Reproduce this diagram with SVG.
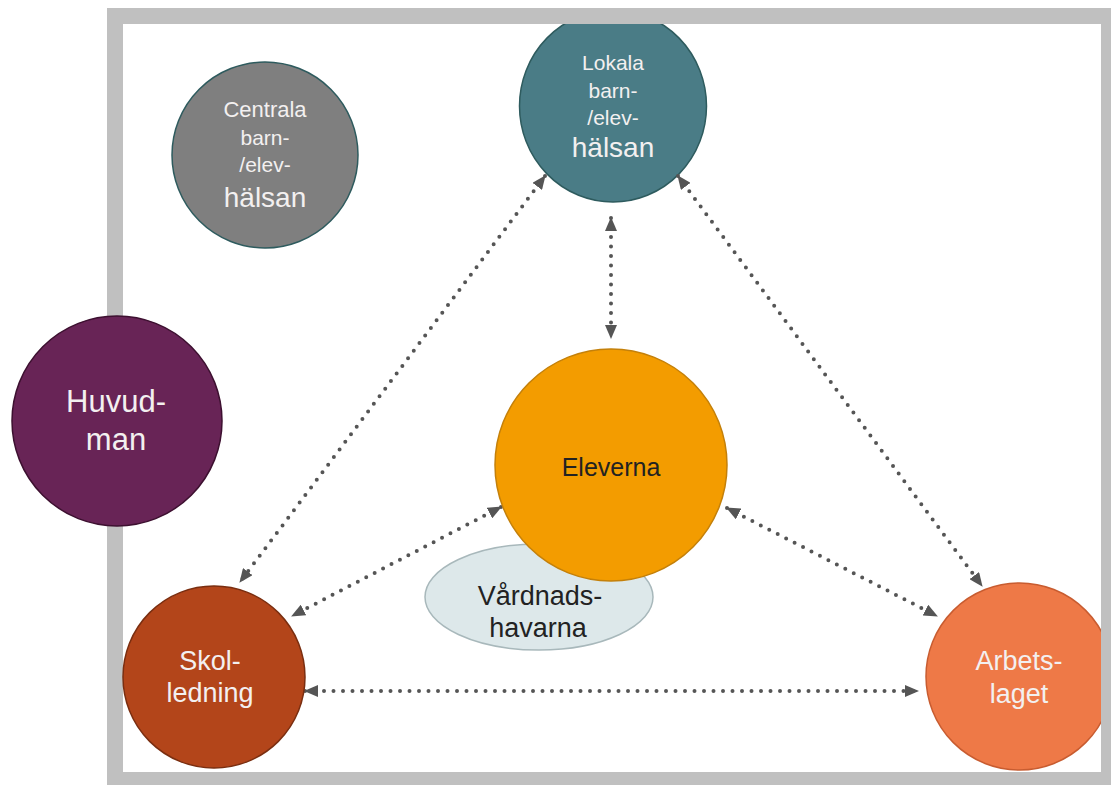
<svg xmlns="http://www.w3.org/2000/svg" width="1111" height="785" viewBox="0 0 1111 785">
<style>
.lt{font-family:"Liberation Sans",Arial,sans-serif;fill:#f3f0f0;text-anchor:middle}
.dk{font-family:"Liberation Sans",Arial,sans-serif;fill:#222;text-anchor:middle}
.con{stroke:#555;stroke-width:4;stroke-linecap:round;stroke-dasharray:0 9.5;fill:none;marker-start:url(#ah);marker-end:url(#ah)}
</style>
<defs>
<marker id="ah" markerUnits="userSpaceOnUse" markerWidth="14" markerHeight="12" refX="13" refY="6" orient="auto-start-reverse" viewBox="0 0 14 12">
<path d="M0,0 L14,6 L0,12 z" fill="#555"/>
</marker>
</defs>
<rect x="0" y="0" width="1111" height="785" fill="#fff"/>
<g id="lokala">
<ellipse cx="613" cy="106" rx="93.5" ry="96" fill="#4a7c86" stroke="#2e5b5e" stroke-width="1.5"/>
<text class="lt" x="613" y="70" font-size="21">Lokala</text>
<text class="lt" x="613" y="98" font-size="21">barn-</text>
<text class="lt" x="613" y="125" font-size="21">/elev-</text>
<text class="lt" x="613" y="157" font-size="28">hälsan</text>
</g>
<g id="arbetslaget">
<circle cx="1019.5" cy="676.5" r="93.5" fill="#ee7947" stroke="#c85c30" stroke-width="1.5"/>
<text class="lt" x="1019" y="670" font-size="27">Arbets-</text>
<text class="lt" x="1019" y="703" font-size="27">laget</text>
</g>
<rect id="frame" x="115" y="16" width="994" height="764" fill="none" stroke="#c0c0c0" stroke-width="16"/>
<g id="connectors">
<line class="con" x1="611" y1="218" x2="611" y2="338"/>
<line class="con" x1="545" y1="176" x2="240" y2="582"/>
<line class="con" x1="678" y1="176" x2="982" y2="586"/>
<line class="con" x1="501" y1="507" x2="292" y2="616"/>
<line class="con" x1="727" y1="508" x2="937" y2="616"/>
<line class="con" x1="305" y1="691" x2="918" y2="691"/>
</g>
<g id="centrala">
<circle cx="265" cy="155" r="93" fill="#7f7f7f" stroke="#2e5b5e" stroke-width="1.5"/>
<text class="lt" x="265" y="117" font-size="22">Centrala</text>
<text class="lt" x="265" y="145" font-size="21">barn-</text>
<text class="lt" x="265" y="172" font-size="21">/elev-</text>
<text class="lt" x="265" y="207" font-size="28">hälsan</text>
</g>
<g id="vardnadshavarna">
<ellipse cx="539" cy="597" rx="114" ry="53" fill="#dde8ea" stroke="#a8b8bb" stroke-width="1.5"/>
<text class="dk" x="540" y="605" font-size="27" fill="#2a2a2a">Vårdnads-</text>
<text class="dk" x="538" y="637" font-size="27" fill="#2a2a2a">havarna</text>
</g>
<g id="eleverna">
<circle cx="611" cy="465" r="116" fill="#f39c00" stroke="#c4800a" stroke-width="1.5"/>
<text class="dk" x="611" y="476" font-size="25" fill="#1a1a1a">Eleverna</text>
</g>
<g id="skolledning">
<circle cx="214" cy="677" r="91" fill="#b3451a" stroke="#7a2e10" stroke-width="1.5"/>
<text class="lt" x="210" y="670" font-size="27">Skol-</text>
<text class="lt" x="210" y="702" font-size="27">ledning</text>
</g>
<g id="huvudman">
<circle cx="117" cy="421" r="105" fill="#682456" stroke="#3d1030" stroke-width="1.5"/>
<text class="lt" x="116" y="412" font-size="31">Huvud-</text>
<text class="lt" x="116" y="450" font-size="31">man</text>
</g>
</svg>
